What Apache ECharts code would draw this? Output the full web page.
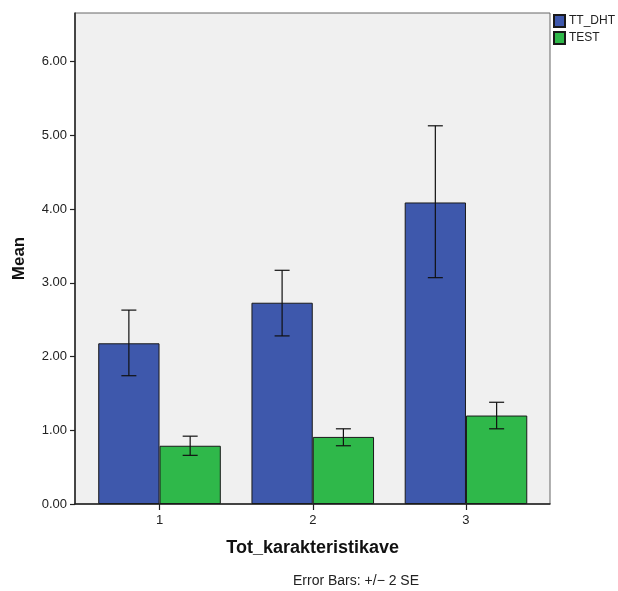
<!DOCTYPE html>
<html>
<head>
<meta charset="utf-8">
<script src="https://cdn.jsdelivr.net/npm/echarts@6/dist/echarts.min.js"></script>
<style>html,body{margin:0;padding:0;background:#fff}#c{width:618px;height:591px}</style>
</head>
<body>
<div id="c"></div>
<script>
var categories = ['1', '2', '3'];
var seriesNames = ['TT_DHT', 'TEST'];
var ttDht = [2.18, 2.73, 4.09];
var ttDhtLow = [1.74, 2.28, 3.07];
var ttDhtHigh = [2.63, 3.17, 5.13];
var test = [0.79, 0.91, 1.20];
var testLow = [0.66, 0.79, 1.02];
var testHigh = [0.92, 1.02, 1.38];
var yTicks = [0, 1, 2, 3, 4, 5, 6];

var FONT = 'Liberation Sans';
var chart = echarts.init(document.getElementById('c'));

function errData(low, high) {
  return low.map(function (l, i) { return [i, l, high[i]]; });
}
function errRender(side) {
  return function (params, api) {
    var idx = api.value(0);
    var band = api.size([1, 0])[0];
    var off = side * band * 0.2;
    var top = api.coord([idx, api.value(2)]);
    var bot = api.coord([idx, api.value(1)]);
    var x = top[0] + off;
    var cap = 7.5;
    var st = { stroke: '#111', lineWidth: 1.2 };
    return {
      type: 'group',
      children: [
        { type: 'line', shape: { x1: x, y1: top[1], x2: x, y2: bot[1] }, style: st },
        { type: 'line', shape: { x1: x - cap, y1: top[1], x2: x + cap, y2: top[1] }, style: st },
        { type: 'line', shape: { x1: x - cap, y1: bot[1], x2: x + cap, y2: bot[1] }, style: st }
      ]
    };
  };
}

var option = {
  animation: false,
  backgroundColor: '#fff',
  textStyle: { fontFamily: FONT },
  legend: {
    orient: 'vertical', left: 553, top: 14, padding: 0, itemWidth: 11, itemHeight: 12, itemGap: 3,
    icon: 'rect',
    textStyle: { fontFamily: FONT, fontSize: 12, color: '#222', padding: [0, 0, 0, -1] },
    data: seriesNames
  },
  graphic: [{
    type: 'text', left: 293, top: 574,
    style: { text: 'Error Bars: +/\u2212 2 SE', font: '14px ' + FONT, fill: '#222' }
  }],
  grid: [
    { left: 75, top: 13, right: 68, bottom: 87, show: true, backgroundColor: '#F0F0F0', borderColor: '#666', borderWidth: 1 },
    { left: 82.9, top: 13, right: 75.4, bottom: 87 }
  ],
  xAxis: [
    { type: 'value', gridIndex: 0, min: 0, max: 1, show: true,
      axisLine: { show: true, lineStyle: { color: '#222', width: 1.5 } },
      axisTick: { show: false }, axisLabel: { show: false }, splitLine: { show: false } },
    { type: 'category', gridIndex: 1, data: categories,
      axisLine: { show: false },
      axisTick: { show: true, alignWithLabel: true, length: 6, lineStyle: { color: '#222', width: 1.2 } },
      axisLabel: { color: '#222', fontSize: 13, margin: 10, fontFamily: FONT },
      name: 'Tot_karakteristikave', nameLocation: 'middle', nameGap: 35,
      nameTextStyle: { fontFamily: FONT, fontSize: 18, fontWeight: 'bold', color: '#111' } }
  ],
  yAxis: [
    { type: 'value', gridIndex: 0, min: 0, max: 6.66,
      axisLine: { show: true, lineStyle: { color: '#222', width: 1.5 } },
      axisTick: { show: true, length: 5, customValues: yTicks, lineStyle: { color: '#222', width: 1.2 } },
      axisLabel: { customValues: yTicks, margin: 8, color: '#222', fontSize: 13, fontFamily: FONT,
        formatter: function (v) { return v.toFixed(2); } },
      splitLine: { show: false },
      name: 'Mean', nameLocation: 'middle', nameGap: 47, nameRotate: 90,
      nameTextStyle: { fontFamily: FONT, fontSize: 17, fontWeight: 'bold', color: '#111' } },
    { type: 'value', gridIndex: 1, min: 0, max: 6.66, show: false, splitLine: { show: false } }
  ],
  series: [
    { name: seriesNames[0], type: 'bar', xAxisIndex: 1, yAxisIndex: 1, data: ttDht,
      barWidth: '40%', barGap: '0%',
      itemStyle: { color: '#3E58AC', borderColor: '#1a1a1a', borderWidth: 1 } },
    { name: seriesNames[1], type: 'bar', xAxisIndex: 1, yAxisIndex: 1, data: test,
      barWidth: '40%', barGap: '0%',
      itemStyle: { color: '#2FB84A', borderColor: '#1a1a1a', borderWidth: 1 } },
    { type: 'custom', xAxisIndex: 1, yAxisIndex: 1, data: errData(ttDhtLow, ttDhtHigh),
      encode: { x: 0, y: [1, 2] }, renderItem: errRender(-1), z: 5, silent: true },
    { type: 'custom', xAxisIndex: 1, yAxisIndex: 1, data: errData(testLow, testHigh),
      encode: { x: 0, y: [1, 2] }, renderItem: errRender(1), z: 5, silent: true }
  ]
};
chart.setOption(option);
</script>
</body>
</html>
